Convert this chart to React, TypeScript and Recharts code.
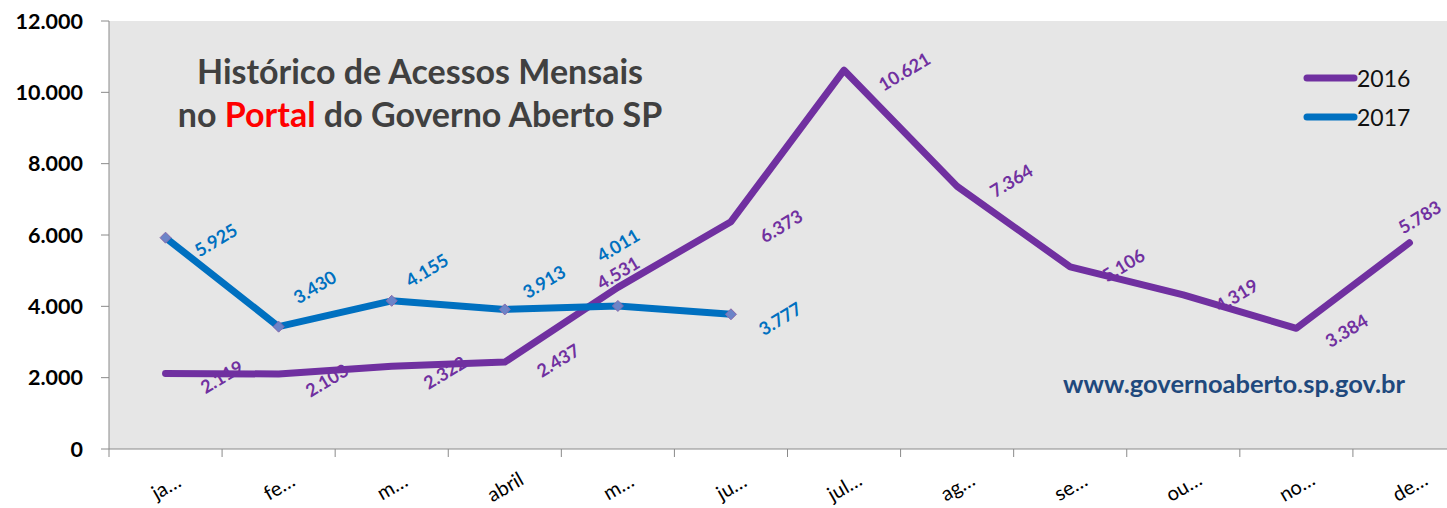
import React from 'react';
import { LineChart, Line, XAxis, YAxis, CartesianGrid, LabelList } from 'recharts';

// ---- data ----
const months = ['ja…', 'fe…', 'm…', 'abril', 'm…', 'ju…', 'jul…', 'ag…', 'se…', 'ou…', 'no…', 'de…'];
const acessos2016 = [2119, 2103, 2322, 2437, 4531, 6373, 10621, 7364, 5106, 4319, 3384, 5783];
const acessos2017 = [5925, 3430, 4155, 3913, 4011, 3777];
const yTicks = [0, 2000, 4000, 6000, 8000, 10000, 12000];
const seriesNames = ['2016', '2017'];
const titleLine1 = 'Histórico de Acessos Mensais';
const titleLine2 = ['no ', 'Portal', ' do Governo Aberto SP'];
const siteUrl = 'www.governoaberto.sp.gov.br';

// ---- style config (label placement offsets relative to each point) ----
const labelOffsets2016: [number, number][] = [
  [56, 3], [48, 6], [53, 6], [53, -2], [0, -15], [50, 4], [60, 1], [54, -6], [53, -2], [53, 0], [50, 2], [10, -26],
];
const labelOffsets2017: [number, number][] = [
  [50, 2], [36, -40], [35, -31], [39, -28], [0, -61], [49, 4],
];

const C2016 = '#7030a0';
const C2017 = '#0070c0';
const AXIS = '#8a8a8a';
const FONT = 'Lato, "Open Sans", sans-serif';

const CHART_W = 1466;
const CHART_H = 508;
const Y_AXIS_W = 109;
const X_AXIS_H = 59;
const TOP = 21;
const PLOT_W = CHART_W - Y_AXIS_W;
const BAND = PLOT_W / months.length;
const AXIS_Y = CHART_H - X_AXIS_H;

const data = months.map((m, i) => ({
  month: m,
  v2016: acessos2016[i],
  v2017: i < acessos2017.length ? acessos2017[i] : null,
}));

const fmt = (v: number) => String(v).replace(/\B(?=(\d{3})+(?!\d))/g, '.');

const makeLabel = (color: string, offsets: [number, number][]) => (props: any) => {
  const { x, y, value, index } = props;
  if (value == null || x == null || y == null) return null;
  const [dx, dy] = offsets[index] || [50, 0];
  const lx = x + dx;
  const ly = y + dy;
  return (
    <text
      x={lx}
      y={ly}
      fill={color}
      fontFamily={FONT}
      fontWeight={700}
      fontSize={18}
      textAnchor="middle"
      dominantBaseline="central"
      transform={`rotate(-31 ${lx} ${ly})`}
    >
      {fmt(value)}
    </text>
  );
};

const Diamond = (props: any) => {
  const { cx, cy, value } = props;
  if (value == null || cx == null || cy == null) return null;
  const r = 5.5;
  return (
    <polygon
      points={`${cx},${cy - r} ${cx + r},${cy} ${cx},${cy + r} ${cx - r},${cy}`}
      fill="#6c84c8"
      stroke="#8a6aaa"
      strokeWidth={1}
    />
  );
};

const XTick = (props: any) => {
  const { x, payload, index } = props;
  const left = x - BAND / 2;
  const ly = AXIS_Y + 37;
  return (
    <g>
      <line x1={left} y1={AXIS_Y} x2={left} y2={AXIS_Y + 8} stroke={AXIS} strokeWidth={1} />
      {index === months.length - 1 && (
        <line x1={x + BAND / 2} y1={AXIS_Y} x2={x + BAND / 2} y2={AXIS_Y + 8} stroke={AXIS} strokeWidth={1} />
      )}
      <text
        x={x}
        y={ly}
        fill="#000"
        fontFamily={FONT}
        fontSize={20}
        textAnchor="middle"
        dominantBaseline="central"
        transform={`rotate(-30 ${x} ${ly})`}
      >
        {payload.value}
      </text>
    </g>
  );
};

export default function App() {
  return (
    <div
      style={{
        position: 'fixed',
        left: 0,
        top: 0,
        width: 1447,
        height: 508,
        overflow: 'hidden',
        background: '#fff',
      }}
    >
      <LineChart
        width={CHART_W}
        height={CHART_H}
        data={data}
        margin={{ top: TOP, right: 0, bottom: 0, left: 0 }}
      >
        <CartesianGrid fill="#e6e6e6" horizontal={false} vertical={false} stroke="none" />
        <XAxis
          dataKey="month"
          height={X_AXIS_H}
          padding={{ left: BAND / 2, right: BAND / 2 }}
          axisLine={{ stroke: AXIS, strokeWidth: 1 }}
          tickLine={false}
          interval={0}
          tick={(p: any) => <XTick {...p} />}
        />
        <YAxis
          width={Y_AXIS_W}
          domain={[0, 12000]}
          ticks={yTicks}
          interval={0}
          tickFormatter={fmt}
          axisLine={{ stroke: AXIS, strokeWidth: 1 }}
          tickLine={{ stroke: AXIS, strokeWidth: 1 }}
          tickSize={8}
          tickMargin={18}
          tick={{ fontFamily: FONT, fontWeight: 700, fontSize: 21.5, fill: '#000' }}
        />
        {/* label layers drawn beneath the lines */}
        <Line
          dataKey="v2016"
          stroke="transparent"
          strokeWidth={0}
          dot={false}
          activeDot={false}
          isAnimationActive={false}
        >
          <LabelList dataKey="v2016" content={makeLabel(C2016, labelOffsets2016)} />
        </Line>
        <Line
          dataKey="v2017"
          stroke="transparent"
          strokeWidth={0}
          dot={false}
          activeDot={false}
          isAnimationActive={false}
        >
          <LabelList dataKey="v2017" content={makeLabel(C2017, labelOffsets2017)} />
        </Line>
        <Line
          type="linear"
          dataKey="v2016"
          name={seriesNames[0]}
          stroke={C2016}
          strokeWidth={7}
          strokeLinejoin="round"
          strokeLinecap="round"
          dot={false}
          activeDot={false}
          isAnimationActive={false}
        />
        <Line
          type="linear"
          dataKey="v2017"
          name={seriesNames[1]}
          stroke={C2017}
          strokeWidth={7}
          strokeLinejoin="round"
          strokeLinecap="round"
          dot={(p: any) => <Diamond key={p.index} {...p} />}
          activeDot={false}
          isAnimationActive={false}
        />
      </LineChart>
      <svg
        width={1447}
        height={508}
        style={{ position: 'absolute', left: 0, top: 0, pointerEvents: 'none' }}
      >
        <text x={420} y={84} textAnchor="middle" fontFamily={FONT} fontWeight={700} fontSize={34} fill="#404040">
          {titleLine1}
        </text>
        <text x={420} y={127} textAnchor="middle" fontFamily={FONT} fontWeight={700} fontSize={34} fill="#404040">
          <tspan>{titleLine2[0]}</tspan>
          <tspan fill="#ff0000">{titleLine2[1]}</tspan>
          <tspan>{titleLine2[2]}</tspan>
        </text>
        <text x={1234} y={393} textAnchor="middle" fontFamily={FONT} fontWeight={700} fontSize={25.5} fill="#1f497d">
          {siteUrl}
        </text>
        {[C2016, C2017].map((c, i) => (
          <g key={i}>
            <line x1={1307} y1={78 + i * 39} x2={1354} y2={78 + i * 39} stroke={c} strokeWidth={7} strokeLinecap="round" />
            <text x={1357} y={78 + i * 39} dominantBaseline="central" fontFamily={FONT} fontSize={23} fill="#111">
              {seriesNames[i]}
            </text>
          </g>
        ))}
      </svg>
    </div>
  );
}
